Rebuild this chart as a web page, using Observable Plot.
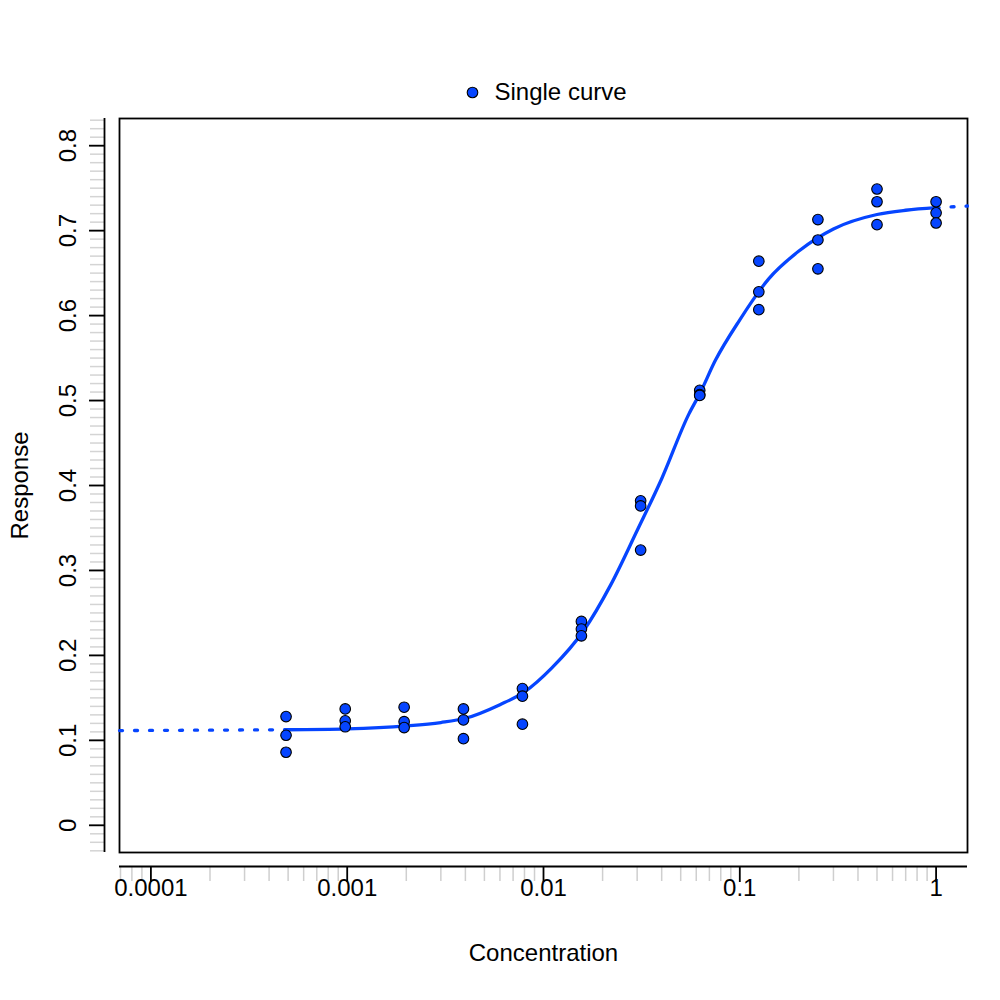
<!DOCTYPE html>
<html>
<head>
<meta charset="utf-8">
<script src="https://cdn.jsdelivr.net/npm/d3@7"></script>
<script src="https://cdn.jsdelivr.net/npm/@observablehq/plot@0.6"></script>
<style>
  html, body { margin: 0; padding: 0; background: #ffffff; }
  #chart svg { display: block; }
</style>
</head>
<body>
<div id="chart"></div>
<script>
// ---- Data ----
const concentrations = [0.000488, 0.000977, 0.00195, 0.00391, 0.00781, 0.0156, 0.03125, 0.0625, 0.125, 0.25, 0.5, 1];
const replicate1 = [0.128, 0.137, 0.139, 0.137, 0.161, 0.240, 0.382, 0.512, 0.664, 0.713, 0.749, 0.734];
const replicate2 = [0.106, 0.123, 0.122, 0.124, 0.152, 0.231, 0.376, 0.507, 0.628, 0.689, 0.734, 0.721];
const replicate3 = [0.086, 0.116, 0.115, 0.102, 0.119, 0.223, 0.324, 0.506, 0.607, 0.655, 0.707, 0.709];

// Fitted curve (solid part)
const curveConc = [0.000488, 0.001, 0.002, 0.003, 0.004, 0.006, 0.008, 0.011, 0.016, 0.022, 0.03, 0.04, 0.055, 0.0625, 0.075, 0.1, 0.14, 0.2, 0.3, 0.5, 0.7, 1];
const curveResp = [0.1125, 0.1135, 0.117, 0.121, 0.126, 0.142, 0.157, 0.185, 0.229, 0.283, 0.347, 0.408, 0.484, 0.508, 0.547, 0.595, 0.643, 0.676, 0.702, 0.719, 0.724, 0.727];
// Dotted extensions of the curve
const leftExtConc = [0.0000692, 0.000488];
const leftExtResp = [0.1115, 0.1125];
const rightExtConc = [1, 1.445];
const rightExtResp = [0.727, 0.729];

// Axis ticks
const xMajorTicks = [0.0001, 0.001, 0.01, 0.1, 1];
const xTickLabels = ["0.0001", "0.001", "0.01", "0.1", "1"];
const xMinorTicks = [0.00007, 0.00008, 0.00009,
  0.0002, 0.0003, 0.0004, 0.0005, 0.0006, 0.0007, 0.0008, 0.0009,
  0.002, 0.003, 0.004, 0.005, 0.006, 0.007, 0.008, 0.009,
  0.02, 0.03, 0.04, 0.05, 0.06, 0.07, 0.08, 0.09,
  0.2, 0.3, 0.4, 0.5, 0.6, 0.7, 0.8, 0.9];
const yMajorTicks = [0, 0.1, 0.2, 0.3, 0.4, 0.5, 0.6, 0.7, 0.8];
const yTickLabels = ["0", "0.1", "0.2", "0.3", "0.4", "0.5", "0.6", "0.7", "0.8"];
const yMinorTicks = d3.range(-3, 84).map(i => i / 100);

const xLabel = "Concentration";
const yLabel = "Response";
const legendLabels = ["Single curve"];

// ---- Tables built from the arrays ----
const points = [];
concentrations.forEach((c, i) => {
  [replicate1, replicate2, replicate3].forEach(r => points.push({conc: c, resp: r[i]}));
});
const curve = curveConc.map((c, i) => ({conc: c, resp: curveResp[i]}));
const leftExt = leftExtConc.map((c, i) => ({conc: c, resp: leftExtResp[i]}));
const rightExt = rightExtConc.map((c, i) => ({conc: c, resp: rightExtResp[i]}));

const xDomain = [Math.pow(10, -4.16), Math.pow(10, 0.16)];
const yDomain = [-0.032, 0.832];
const blue = "#0645ff";
const font = "'Liberation Sans', Arial, Helvetica, sans-serif";
const fs = 24;

const chart = Plot.plot({
  width: 1000,
  height: 1000,
  marginLeft: 119,
  marginRight: 33,
  marginTop: 118,
  marginBottom: 148,
  x: {type: "log", domain: xDomain, axis: null, label: null},
  y: {domain: yDomain, axis: null, label: null},
  style: {fontFamily: font, fontSize: fs + "px", background: "#ffffff", color: "black"},
  marks: [
    // y axis (offset to the left of the box)
    Plot.axisY(yMinorTicks, {anchor: "left", label: null, tickSize: 14, dx: -15, stroke: "#d4d4d4", tickFormat: () => "", strokeWidth: 1.5}),
    Plot.axisY(yMajorTicks, {anchor: "left", label: null, tickSize: 15, dx: -15, stroke: "black", tickFormat: () => "", strokeWidth: 1.8}),
    Plot.ruleX([xDomain[0]], {y1: yDomain[0], y2: yDomain[1], dx: -15, stroke: "black", strokeWidth: 1.8}),
    Plot.text(yMajorTicks, {x: xDomain[0], y: d => d, text: (d, i) => yTickLabels[i], rotate: -90, dx: -51, textAnchor: "middle", lineAnchor: "middle", fontSize: fs, fill: "black"}),
    // x axis (offset below the box)
    Plot.axisX(xMinorTicks, {anchor: "bottom", label: null, tickSize: 15, dy: 14, stroke: "#cfcfcf", tickFormat: () => "", strokeWidth: 1.5}),
    Plot.axisX(xMajorTicks, {anchor: "bottom", label: null, tickSize: 16, dy: 14, stroke: "black", tickFormat: () => "", strokeWidth: 1.8}),
    Plot.ruleY([yDomain[0]], {x1: xDomain[0], x2: xDomain[1], dy: 14, stroke: "black", strokeWidth: 1.8}),
    Plot.text(xMajorTicks, {x: d => d, y: yDomain[0], text: (d, i) => xTickLabels[i], dy: 36, textAnchor: "middle", lineAnchor: "middle", fontSize: fs, fill: "black"}),
    // axis titles
    Plot.text([xLabel], {frameAnchor: "bottom", dy: 101, textAnchor: "middle", lineAnchor: "middle", fontSize: fs, fill: "black"}),
    Plot.text([yLabel], {frameAnchor: "left", dx: -99, rotate: -90, textAnchor: "middle", lineAnchor: "middle", fontSize: fs, fill: "black"}),
    // plot box
    Plot.frame({stroke: "black", strokeWidth: 1.8}),
    // curve
    Plot.line(leftExt, {x: "conc", y: "resp", stroke: blue, strokeWidth: 3.3, strokeDasharray: "3,12", strokeLinecap: "round"}),
    Plot.line(rightExt, {x: "conc", y: "resp", stroke: blue, strokeWidth: 3.3, strokeDasharray: "3,12", strokeLinecap: "round"}),
    Plot.line(curve, {x: "conc", y: "resp", stroke: blue, strokeWidth: 3.3, curve: "monotone-x"}),
    // points
    Plot.dot(points, {x: "conc", y: "resp", r: 5.3, fill: blue, stroke: "black", strokeWidth: 1.1}),
    // legend
    Plot.dot(legendLabels, {frameAnchor: "top", dx: -71, dy: -26, r: 5.3, fill: blue, stroke: "black", strokeWidth: 1.1}),
    Plot.text(legendLabels, {frameAnchor: "top", dx: -49, dy: -26, text: d => d, textAnchor: "start", lineAnchor: "middle", fontSize: fs, fill: "black"})
  ]
});
document.getElementById("chart").appendChild(chart);
</script>
</body>
</html>
